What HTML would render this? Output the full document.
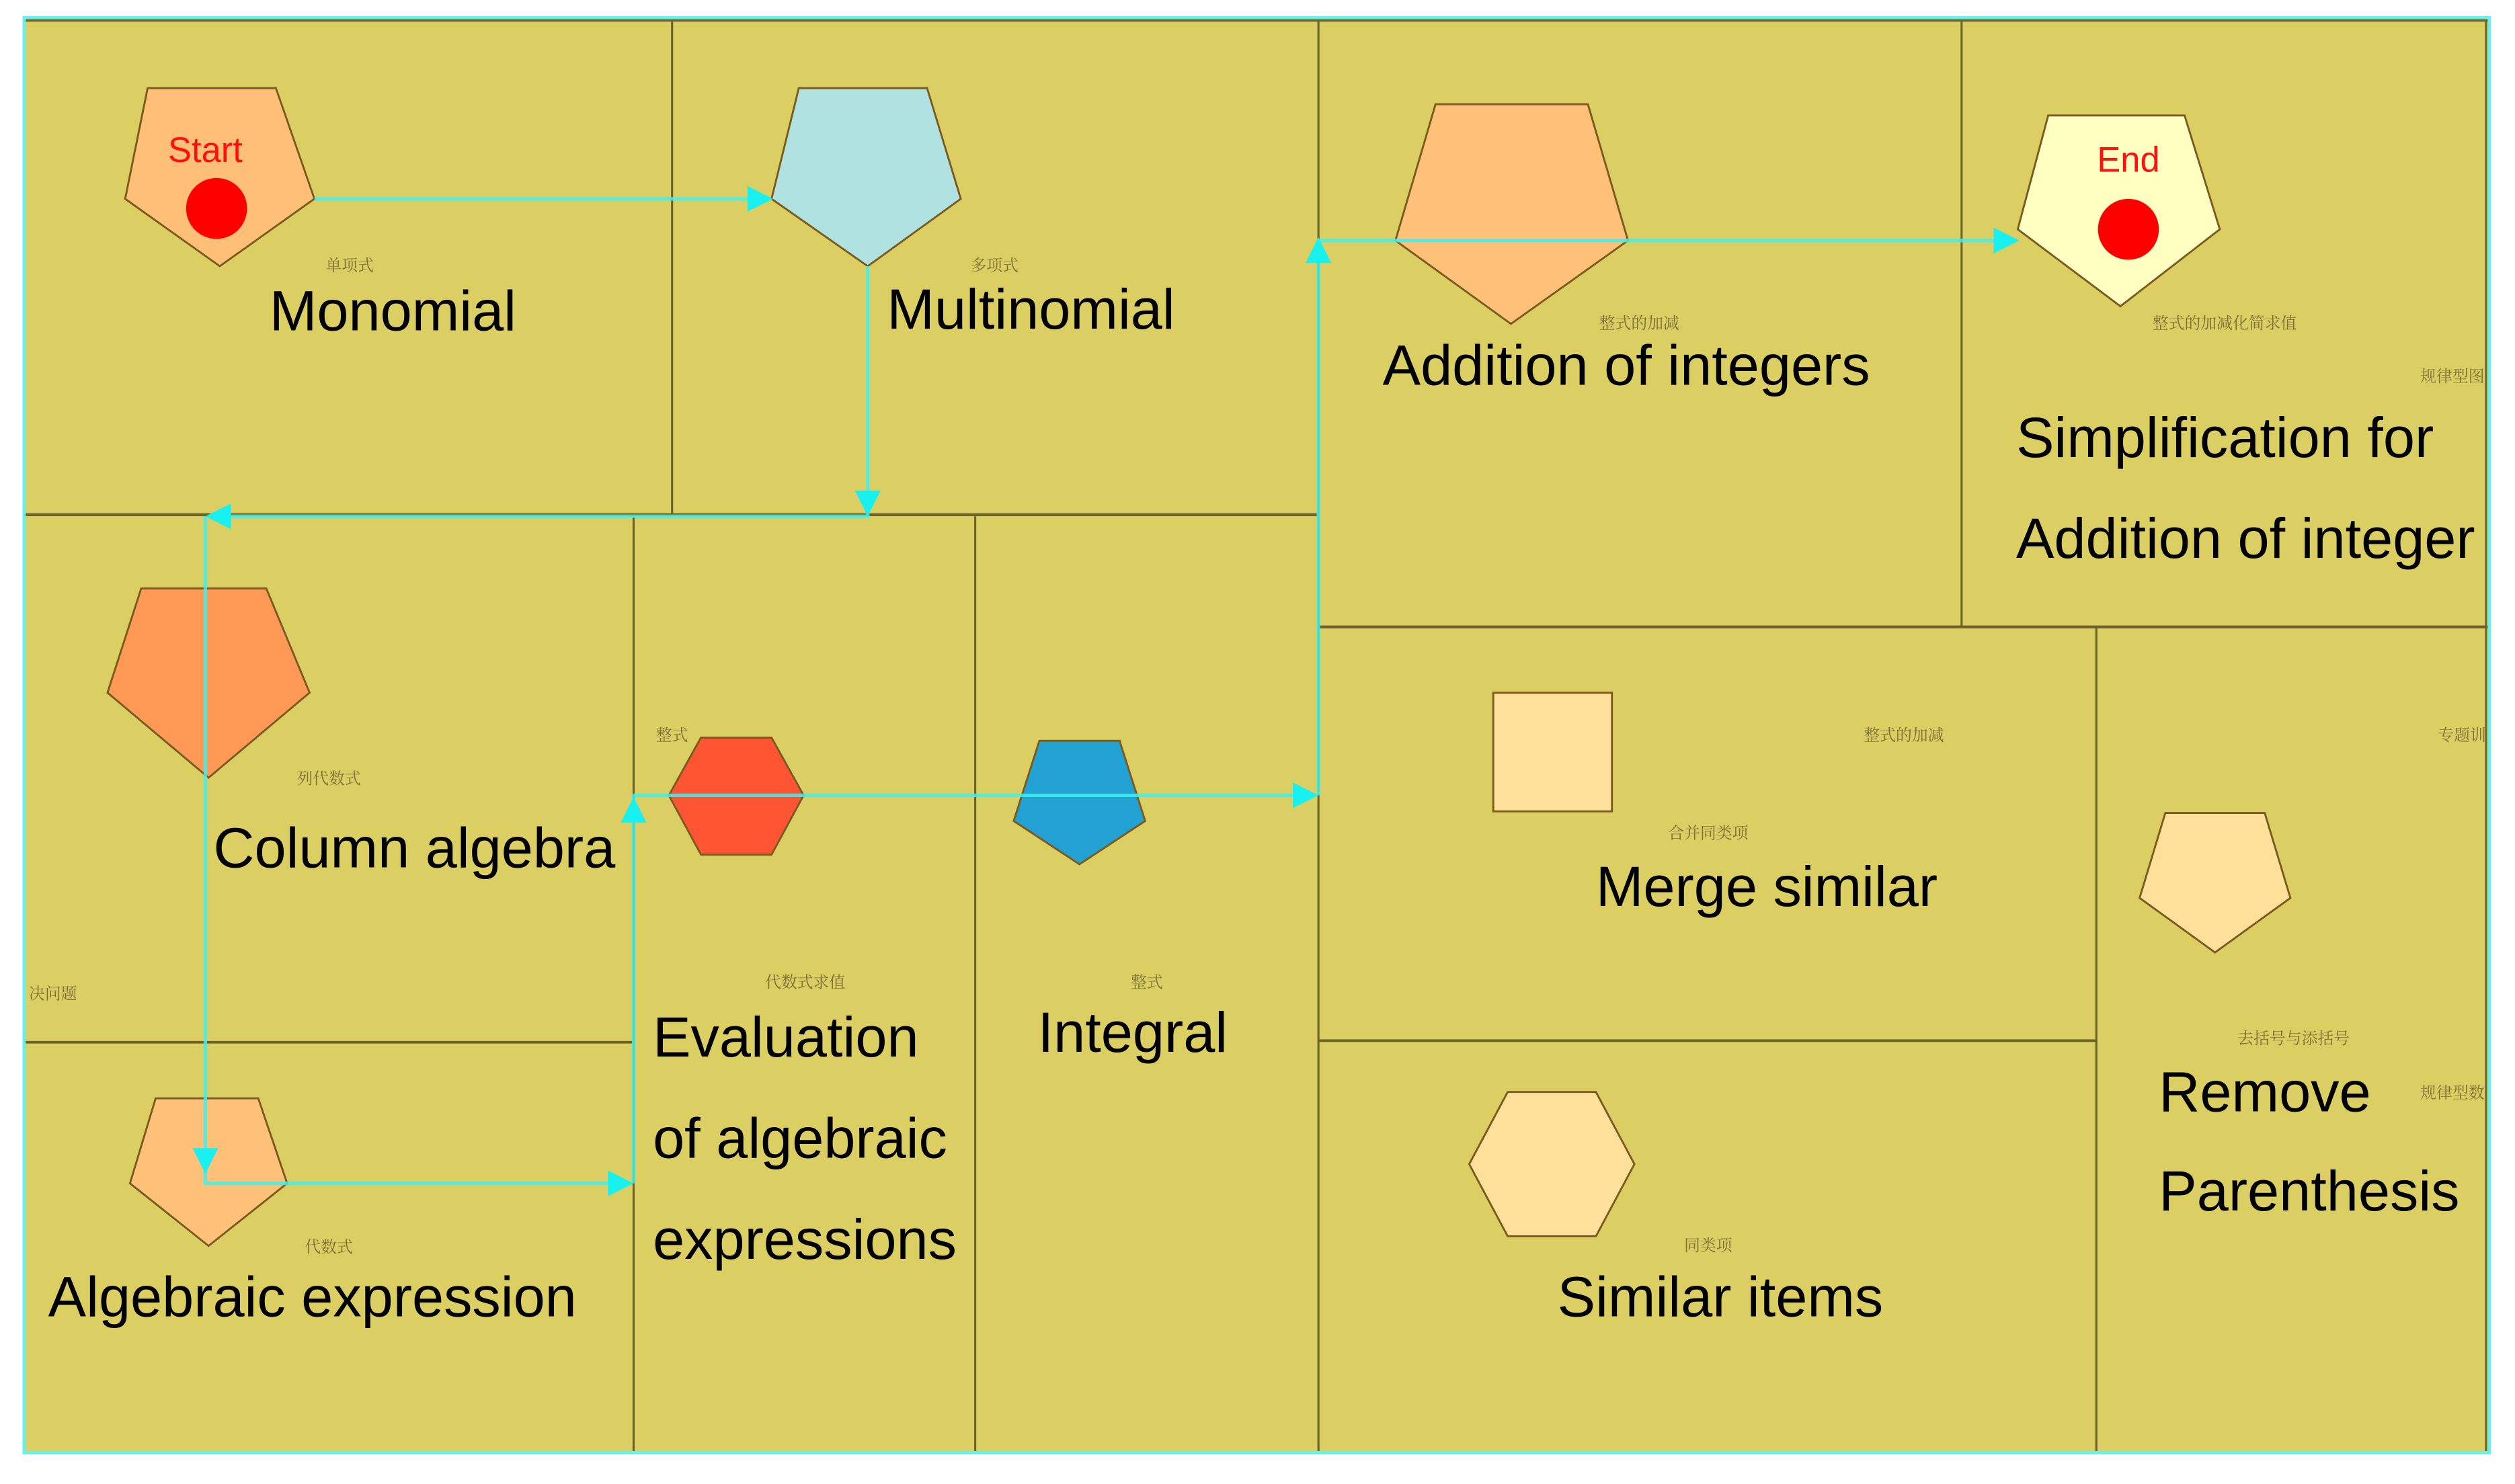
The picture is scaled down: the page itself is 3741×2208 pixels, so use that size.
<!DOCTYPE html>
<html><head><meta charset="utf-8"><style>
html,body{margin:0;padding:0;background:#fff;}
svg{display:block;}
.t{font-family:"Liberation Sans",Arial,sans-serif;font-size:35.5px;fill:#000;}
.c{font-family:"Liberation Serif","Noto Serif CJK SC",serif;font-size:10px;fill:#7d6f38;text-anchor:middle;}
.g{stroke:#6e6128;stroke-width:1.3;fill:none;}
.s{stroke:#7a5a20;stroke-width:1.2;}
.a{stroke:#3ff0ec;stroke-width:2.2;fill:none;opacity:0.85;}
.h{fill:#19f0f0;}
</style></head><body>
<svg width="3741" height="2208" viewBox="0 0 1568 925.5" xmlns="http://www.w3.org/2000/svg">
<rect x="0" y="0" width="1568" height="925.5" fill="#fff"/>
<rect x="15" y="11" width="1537" height="895" fill="#dbcf63"/>
<!-- grid -->
<line class="g" x1="15" y1="12.5" x2="1552" y2="12.5" style="stroke-width:2"/>
<line class="g" x1="419" y1="12" x2="419" y2="321"/>
<line class="g" x1="822" y1="12" x2="822" y2="905"/>
<line class="g" x1="1223" y1="12" x2="1223" y2="391"/>
<line class="g" x1="395" y1="322" x2="395" y2="905"/>
<line class="g" x1="608" y1="322" x2="608" y2="905"/>
<line class="g" x1="1307" y1="391" x2="1307" y2="905"/>
<line class="g" x1="15" y1="321" x2="822" y2="321" style="stroke-width:1.8"/>
<line class="g" x1="822" y1="391" x2="1552" y2="391" style="stroke-width:1.8"/>
<line class="g" x1="15" y1="650" x2="395" y2="650" style="stroke-width:1.6"/>
<line class="g" x1="822" y1="649" x2="1307" y2="649" style="stroke-width:1.6"/>
<line class="g" x1="1550" y1="12" x2="1550" y2="905"/>
<!-- outer cyan border -->
<rect x="15" y="11" width="1537" height="895" fill="none" stroke="#66f0ee" stroke-width="2"/>

<!-- shapes -->
<polygon class="s" points="92,55 172,55 196,124 137,166 78,124" fill="#ffbf77"/>
<circle cx="135" cy="130" r="19" fill="#ff0000"/>
<text x="128" y="101" text-anchor="middle" style="font-family:'Liberation Sans',sans-serif;font-size:22px;fill:#ff1010">Start</text>

<polygon class="s" points="498,55 578,55 599,124 541,166 481,124" fill="#b0e2e2"/>
<polygon class="s" points="88,367 166,367 193,432 130,485 67,432" fill="#ff9955"/>
<polygon class="s" points="97,685 161,685 179,738 130,777 81,738" fill="#ffc077"/>
<polygon class="s" points="437,460 481,460 501,496 481,533 437,533 417,496" fill="#ff5533"/>
<polygon class="s" points="648,462 698,462 714,512 673,539 632,512" fill="#22a2d2"/>
<polygon class="s" points="895,65 990,65 1015,150 942,202 870,150" fill="#ffc077"/>
<polygon class="s" points="1277,72 1362,72 1384,143 1322,191 1258,143" fill="#ffffc2"/>
<circle cx="1327" cy="143" r="19" fill="#ff0000"/>
<text x="1327" y="107" text-anchor="middle" style="font-family:'Liberation Sans',sans-serif;font-size:22px;fill:#ff1010">End</text>
<rect class="s" x="931" y="432" width="74" height="74" fill="#ffe09a"/>
<polygon class="s" points="940,681 995,681 1019,726 995,771 940,771 916,726" fill="#ffe09a"/>
<polygon class="s" points="1350,507 1412,507 1428,560 1381,594 1334,560" fill="#ffe09a"/>

<!-- connectors -->
<polyline class="a" points="196,124 470,124"/>
<polygon class="h" points="482,124 466,116 466,132"/>
<polyline class="a" points="541,166 541,322 140,322"/>
<polygon class="h" points="541,322 533,306 549,306"/>
<polygon class="h" points="128,322 144,314 144,330"/>
<polyline class="a" points="128,322 128,738 385,738"/>
<polygon class="h" points="128,732 120,716 136,716"/>
<polygon class="h" points="395,738 379,730 379,746"/>
<polyline class="a" points="395,738 395,496 812,496"/>
<polygon class="h" points="395,497 387,513 403,513"/>
<polygon class="h" points="822,496 806,488 806,504"/>
<polyline class="a" points="822,496 822,150 1248,150"/>
<polygon class="h" points="822,148 814,164 830,164"/>
<polygon class="h" points="1259,150 1243,142 1243,158"/>

<!-- small chinese labels -->
<text class="c" x="218" y="169">单项式</text>
<text class="c" x="620" y="169">多项式</text>
<text class="c" x="205" y="489">列代数式</text>
<text class="c" x="33" y="623">决问题</text>
<text class="c" x="205" y="781">代数式</text>
<text class="c" x="419" y="462">整式</text>
<text class="c" x="502" y="616">代数式求值</text>
<text class="c" x="715" y="616">整式</text>
<text class="c" x="1022" y="205">整式的加减</text>
<text class="c" x="1387" y="205">整式的加减化简求值</text>
<text class="c" x="1529" y="238">规律型图</text>
<text class="c" x="1187" y="462">整式的加减</text>
<text class="c" x="1535" y="462">专题训</text>
<text class="c" x="1065" y="523">合并同类项</text>
<text class="c" x="1430" y="651">去括号与添括号</text>
<text class="c" x="1529" y="685">规律型数</text>
<text class="c" x="1065" y="780">同类项</text>

<!-- main labels -->
<text class="t" x="168" y="206">Monomial</text>
<text class="t" x="553" y="205">Multinomial</text>
<text class="t" x="862" y="240">Addition of integers</text>
<text class="t" x="1257" y="285">Simplification for</text>
<text class="t" x="1257" y="348">Addition of integer</text>
<text class="t" x="133" y="541">Column algebra</text>
<text class="t" x="407" y="659">Evaluation</text>
<text class="t" x="407" y="722">of algebraic</text>
<text class="t" x="407" y="785">expressions</text>
<text class="t" x="647" y="656">Integral</text>
<text class="t" x="995" y="565">Merge similar</text>
<text class="t" x="1346" y="693">Remove</text>
<text class="t" x="1346" y="755">Parenthesis</text>
<text class="t" x="30" y="821">Algebraic expression</text>
<text class="t" x="971" y="821">Similar items</text>
</svg>
</body></html>
